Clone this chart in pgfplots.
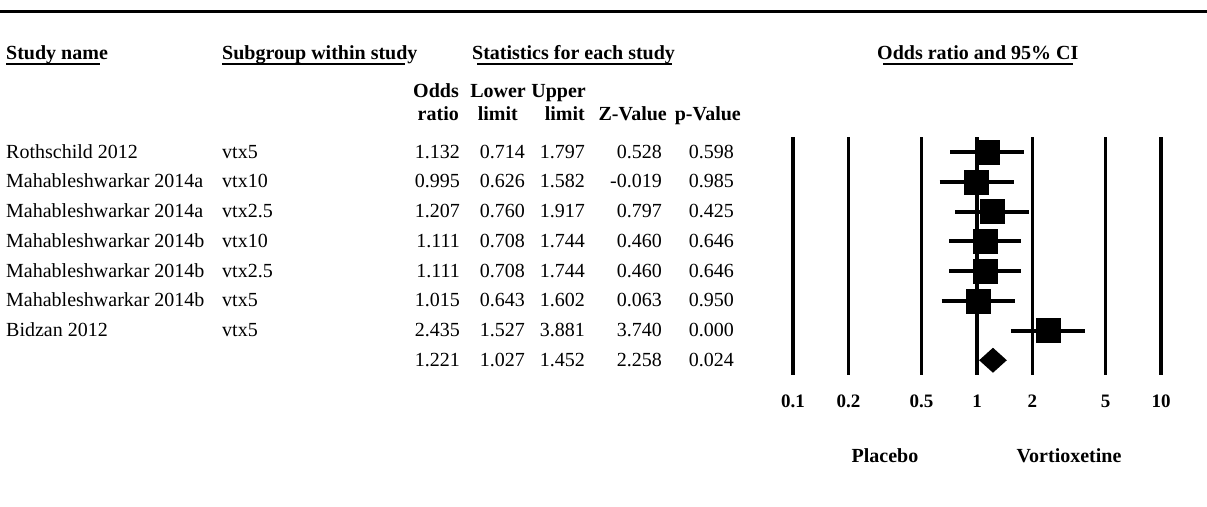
\documentclass[border=0pt]{standalone}
\usepackage{pgfplots}
\pgfplotsset{compat=1.18}
\usepackage{fontspec}
\setmainfont{Liberation Serif}
\begin{document}
\begin{tikzpicture}[font=\fontsize{20}{24}\selectfont]
\useasboundingbox (0pt,0pt) rectangle (1207pt,-506pt);
% top rule
\draw[line width=3.5pt] (0pt,-11.5pt) -- (1207pt,-11.5pt);
% headings
\begin{scope}[every node/.style={anchor=base west, inner sep=0pt}]
\node[font=\fontsize{20}{24}\selectfont\bfseries] at (6pt,-59pt) {Study name};
\node[font=\fontsize{20}{24}\selectfont\bfseries] at (222pt,-59pt) {Subgroup within study};
\node[font=\fontsize{20}{24}\selectfont\bfseries] at (472pt,-59pt) {Statistics for each study};
\node[font=\fontsize{20}{24}\selectfont\bfseries] at (877pt,-59pt) {Odds ratio and 95\% CI};
\end{scope}
\draw[line width=2.5pt] (6pt,-64pt) -- (100pt,-64pt);
\draw[line width=2.5pt] (222pt,-64pt) -- (405pt,-64pt);
\draw[line width=2.5pt] (477pt,-64pt) -- (672pt,-64pt);
\draw[line width=2.5pt] (883pt,-64pt) -- (1073pt,-64pt);
% column headers
\begin{scope}[every node/.style={anchor=base east, inner sep=0pt, font=\fontsize{20}{24}\selectfont\bfseries}]
\node at (459pt,-97pt) {Odds};
\node at (526pt,-97pt) {Lower};
\node at (586pt,-97pt) {Upper};
\node at (459pt,-120pt) {ratio};
\node at (518pt,-120pt) {limit};
\node at (585pt,-120pt) {limit};
\node at (667pt,-120pt) {Z-Value};
\node at (741pt,-120pt) {p-Value};
\end{scope}
% table rows
\begin{scope}[every node/.style={inner sep=0pt}]
\foreach \i/\name/\sub/\orr/\lo/\hi/\z/\p in {
 0/Rothschild 2012/vtx5/1.132/0.714/1.797/0.528/0.598,
 1/Mahableshwarkar 2014a/vtx10/0.995/0.626/1.582/-0.019/0.985,
 2/Mahableshwarkar 2014a/vtx2.5/1.207/0.760/1.917/0.797/0.425,
 3/Mahableshwarkar 2014b/vtx10/1.111/0.708/1.744/0.460/0.646,
 4/Mahableshwarkar 2014b/vtx2.5/1.111/0.708/1.744/0.460/0.646,
 5/Mahableshwarkar 2014b/vtx5/1.015/0.643/1.602/0.063/0.950,
 6/Bidzan 2012/vtx5/2.435/1.527/3.881/3.740/0.000,
 7///1.221/1.027/1.452/2.258/0.024}{
  \pgfmathsetmacro{\yb}{-(158+29.75*\i)}
  \node[anchor=base west] at (6pt,\yb pt) {\name};
  \node[anchor=base west] at (222pt,\yb pt) {\sub};
  \node[anchor=base east] at (460pt,\yb pt) {\orr};
  \node[anchor=base east] at (525pt,\yb pt) {\lo};
  \node[anchor=base east] at (585pt,\yb pt) {\hi};
  \node[anchor=base east] at (662pt,\yb pt) {\z};
  \node[anchor=base east] at (734pt,\yb pt) {\p};
}
\end{scope}
% forest plot
\begin{axis}[
  at={(793pt,-375pt)}, anchor=south west,
  scale only axis, width=368pt, height=238pt,
  xmode=log, log basis x=10, xmin=0.1, xmax=10,
  ymin=0.496, ymax=8.496, y dir=reverse,
  axis line style={draw=none},
  ytick=\empty,
  xtick={0.1,0.2,0.5,1,2,5,10},
  xticklabels={0.1,0.2,0.5,1,2,5,10},
  major tick length=0pt,
  xmajorgrids, grid style={black, line width=3.5pt},
  xticklabel style={font=\fontsize{19}{22}\selectfont\bfseries, anchor=base, inner sep=0pt, yshift=-32pt},
  clip=false,
]
\addplot[black, line width=4pt] coordinates {(0.714,1) (1.797,1)};
\addplot[black, line width=4pt] coordinates {(0.626,2) (1.582,2)};
\addplot[black, line width=4pt] coordinates {(0.760,3) (1.917,3)};
\addplot[black, line width=4pt] coordinates {(0.708,4) (1.744,4)};
\addplot[black, line width=4pt] coordinates {(0.708,5) (1.744,5)};
\addplot[black, line width=4pt] coordinates {(0.643,6) (1.602,6)};
\addplot[black, line width=4pt] coordinates {(1.527,7) (3.881,7)};
\addplot[only marks, mark=square*, mark size=12pt, mark options={fill=black, draw=none}]
  coordinates {(1.132,1) (0.995,2) (1.207,3) (1.111,4) (1.111,5) (1.015,6) (2.435,7)};
\addplot[fill=black, draw=none] coordinates {(1.027,8) (1.221,7.58) (1.452,8) (1.221,8.42)} -- cycle;
\end{axis}
% side labels
\node[font=\fontsize{20}{24}\selectfont\bfseries, anchor=base, inner sep=0pt] at (885pt,-462pt) {Placebo};
\node[font=\fontsize{20}{24}\selectfont\bfseries, anchor=base, inner sep=0pt] at (1069pt,-462pt) {Vortioxetine};
\end{tikzpicture}
\end{document}
